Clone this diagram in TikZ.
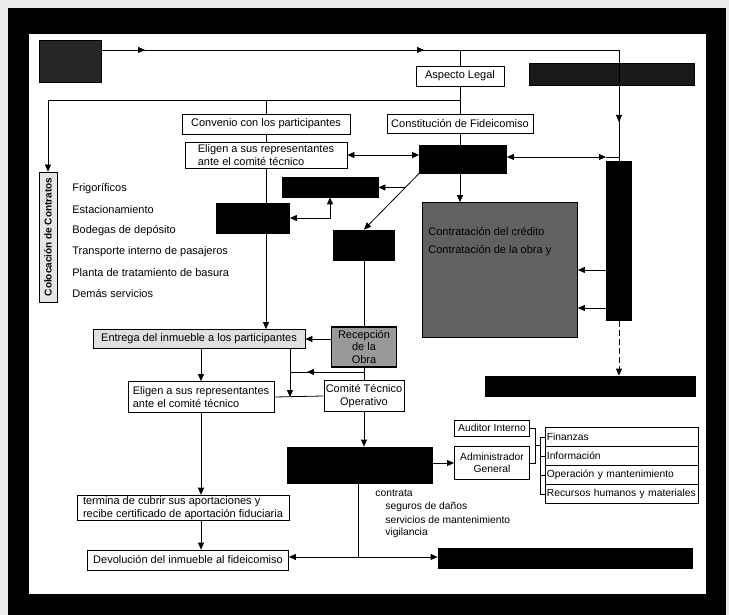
\documentclass[tikz,border=0pt]{standalone}
\usepackage{fontspec}
\setmainfont{Liberation Sans}
\usetikzlibrary{arrows.meta, decorations.markings, calc}

\begin{document}
\begin{tikzpicture}[x=1pt, y=-1pt, >={Triangle[length=7pt, width=6pt]}, line width=0.8pt,
    box/.style={draw, fill=white, inner sep=1.5pt, align=center, font=\fontsize{11}{12.5}\selectfont},
    blk/.style={draw, fill=black},
    item/.style={anchor=west, inner sep=0pt, font=\fontsize{11}{12}\selectfont},
    small/.style={anchor=west, inner sep=0pt, font=\fontsize{10.3}{12}\selectfont},
    lst/.style={box, anchor=west, text width=150pt, align=left, minimum height=19pt, font=\fontsize{10.3}{12}\selectfont},
    midtip/.style={postaction={decorate, decoration={markings, mark=at position #1 with {\arrow{>}}}}}]
    % Frame
    \useasboundingbox (0,0) rectangle (729,615);
    \fill[black!8] (0,0) rectangle (729,615);
    \fill[black] (8,8) rectangle (726,615);
    \fill[white] (29,34) rectangle (706,594);

    % Define boxes
    \node[blk, minimum width=62, minimum height=42, fill=black!85] (origen) at (70,61) {};
    \node[box, minimum width=88, minimum height=20] (aspecto) at (460,76) {Aspecto Legal};
    \node[blk, minimum width=165, minimum height=22, fill=black!90] (juridico) at (612,74) {};
    \node[box, minimum width=168, minimum height=20] (convenio) at (266,124) {Convenio con los participantes};
    \node[box, minimum width=146, minimum height=19] (constit) at (460,124) {Constitución de Fideicomiso};
    \node[box, minimum width=162, minimum height=26, align=left] (eligen) at (266,155) {Eligen a sus representantes\\ante el comité técnico};
    \node[blk, minimum width=87, minimum height=28] (fid) at (463,159) {};
    \node[blk, minimum width=96, minimum height=20] (ba) at (330,187) {};
    \node[blk, minimum width=73, minimum height=30] (bc) at (253,218) {};
    \node[blk, minimum width=61, minimum height=30] (bb) at (364,245) {};
    \node[draw, fill=black!62, minimum width=155, minimum height=135] (tareas) at (500,270) {};
    \node[item] (credito) at (428,232) {Contratación del crédito};
    \node[item] (obra) at (428,251) {Contratación de la obra y};
    \node[blk, minimum width=25, minimum height=159] (fiduc) at (619,241) {};

    % Left column
    \node[box, rotate=90, minimum width=130, minimum height=18, fill=black!10, font=\fontsize{10}{11}\selectfont\bfseries] (coloc) at (48,237) {Colocación de Contratos};
    \node[item] (frig) at (72,189) {Frigoríficos};
    \node[item] (estac) at (72,210) {Estacionamiento};
    \node[item] (bodeg) at (72,231) {Bodegas de depósito};
    \node[item] (transp) at (72,252) {Transporte interno de pasajeros};
    \node[item] (planta) at (72,273) {Planta de tratamiento de basura};
    \node[item] (demas) at (72,294) {Demás servicios};

    % Lower part
    \node[box, minimum width=212, minimum height=19, fill=black!12] (entrega) at (199,339) {Entrega del inmueble a los participantes};
    \node[box, minimum width=65, minimum height=40, fill=black!40, line width=1.5pt] (recep) at (364,347) {Recepción\\de la\\Obra};
    \node[box, minimum width=146, minimum height=31, align=left] (eligenb) at (201,397) {Eligen a sus representantes\\ante el comité técnico};
    \node[box, minimum width=80, minimum height=31] (comite) at (364,396) {Comité Técnico\\Operativo};
    \node[blk, minimum width=210, minimum height=20] (bw) at (590,386) {};
    \node[blk, minimum width=145, minimum height=36] (bd) at (360,465) {};
    \node[box, minimum width=75, minimum height=16, font=\fontsize{10.3}{12}\selectfont] (auditor) at (492,428) {Auditor Interno};
    \node[box, minimum width=75, minimum height=33, font=\fontsize{10.3}{12}\selectfont] (admin) at (492,463) {Administrador\\General};
    \node[lst] (fin) at (545,437) {Finanzas};
    \node[lst] (info) at (545,456) {Información};
    \node[lst] (oper) at (545,475) {Operación y mantenimiento};
    \node[lst] (recur) at (545,494) {Recursos humanos y materiales};
    \node[small] (contrata) at (375,493) {contrata};
    \node[small] (seguros) at (385,507) {seguros de daños};
    \node[small] (servic) at (385,520) {servicios de mantenimiento};
    \node[small] (vigil) at (385,533) {vigilancia};
    \node[box, minimum width=212, minimum height=25, align=left] (termina) at (183,508) {termina de cubrir sus aportaciones y\\recibe certificado de aportación fiduciaria};
    \node[box, minimum width=201, minimum height=20] (devol) at (188,560) {Devolución del inmueble al fideicomiso};
    \node[blk, minimum width=254, minimum height=20] (bz) at (565,558) {};

    % Junctions
    \coordinate (t0) at (101,50);
    \coordinate (t1) at (619,50);
    \coordinate (jl) at (606,157);
    \coordinate (jr) at (619,157);
    \coordinate (h0) at (460,100);
    \coordinate (h1) at (48,100);
    \coordinate (d0) at ($(fid.south west)!0.25!(bb.north)$);
    \coordinate (f1) at (606,270);
    \coordinate (f2) at (606,308);
    \coordinate (r0) at (364,372);
    \coordinate (r1) at (290,372);
    \coordinate (q0) at (358,557);
    \coordinate (k0) at (535,445);
    \coordinate (k1) at (540,445);

    % Draw edges
    \draw[midtip=44pt, midtip=323pt, midtip=590pt] (t0) -- (t1) -- (fiduc.north);
    \draw (jl) -- (jr);
    \draw (aspecto.north |- t0) -- (aspecto.north);
    \draw (aspecto.south) -- (constit.north);
    \draw[->] (h0) -- (h1) -- (coloc.east);
    \draw (convenio.north |- h0) -- (convenio.north);
    \draw (convenio.south) -- (eligen.north);
    \draw (constit.south) -- (constit.south |- fid.north);
    \draw[<->] (eligen.east) -- (eligen.east -| fid.west);
    \draw[<->] (fid.east |- jl) -- (jl);
    \draw[->] (constit.south |- fid.south) -- (constit.south |- tareas.north);
    \draw[->] (fid.south west) -- (bb.north);
    \draw[->] (d0) -- (d0 -| ba.east);
    \draw[<->] (bc.east) -| (ba.south);
    \draw[->] (eligen.south) -- (eligen.south |- entrega.north);
    \draw (bb.south) -- (recep.north);
    \draw[->] (f1) -- (f1 -| tareas.east);
    \draw[->] (f2) -- (f2 -| tareas.east);
    \draw[->, dash pattern=on 6pt off 3pt] (fiduc.south) -- (fiduc.south |- bw.north);
    \draw[->] (recep.west |- entrega.east) -- (entrega.east);
    \draw (recep.south) -- (comite.north);
    \draw[midtip=57pt] (r0) -- (r1);
    \draw[->] (entrega.south -| r1) -- (eligenb.east -| r1);
    \draw (eligenb.east) -- (comite.west);
    \draw[->] (entrega.south -| eligenb.north) -- (eligenb.north);
    \draw[->] (eligenb.south) -- (eligenb.south |- termina.north);
    \draw[->] (eligenb.south |- termina.south) -- (eligenb.south |- devol.north);
    \draw[->] (comite.south) -- (comite.south |- bd.north);
    \draw[->] (bd.east |- admin.west) -- (admin.west);
    \draw (bd.south -| q0) -- (q0);
    \draw[->] (q0) -- (q0 -| devol.east);
    \draw[->] (q0) -- (q0 -| bz.west);
    \draw (auditor.east) -- (auditor.east -| k0) -- (admin.east -| k0) -- (admin.east);
    \draw (k0) -- (k1);
    \draw (fin.west) -- (fin.west -| k1) -- (recur.west -| k1) -- (recur.west);
    \draw (info.west) -- (info.west -| k1);
    \draw (oper.west) -- (oper.west -| k1);
\end{tikzpicture}
\end{document}
